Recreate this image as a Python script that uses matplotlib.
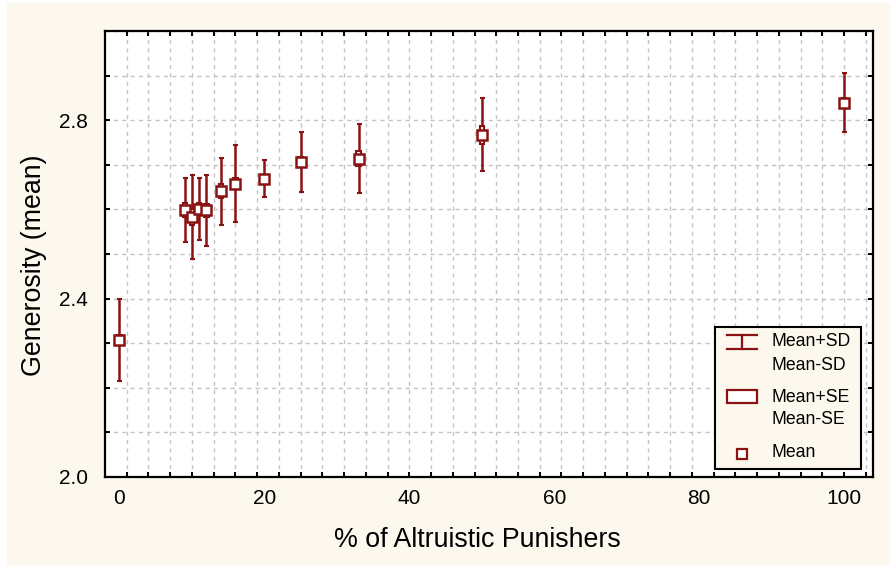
import numpy as np
import matplotlib.pyplot as plt
from matplotlib.patches import Rectangle
from matplotlib.ticker import FixedLocator

plt.rcParams['font.family'] = ['Liberation Sans', 'DejaVu Sans']

# datos
pct = [0, 9, 10, 11, 12, 14, 16, 20, 25, 33, 50, 100]
mean = [2.308, 2.599, 2.583, 2.601, 2.598, 2.641, 2.658, 2.669, 2.707, 2.714, 2.767, 2.839]
sd = [0.092, 0.071, 0.094, 0.070, 0.079, 0.075, 0.087, 0.042, 0.067, 0.078, 0.082, 0.066]
se = [0.011, 0.015, 0.018, 0.013, 0.014, 0.015, 0.013, 0.008, 0.011, 0.016, 0.020, 0.010]

xticks = [0, 20, 40, 60, 80, 100]
yticks = [2.0, 2.4, 2.8]

red = '#8b1212'
cream = '#fdf8ee'
gridc = '#c4c4c4'

fig = plt.figure(figsize=(8.9, 5.66), dpi=100, facecolor='white')
fig.patches.append(Rectangle((7 / 890, 0), 1, 1 - 3 / 566, transform=fig.transFigure,
                             facecolor=cream, edgecolor='none', zorder=-10))
ax = fig.add_axes([105 / 890, 1 - 477 / 566, 768 / 890, 446 / 566])
ax.set_facecolor('white')

# barras de SD
ax.errorbar(pct, mean, yerr=sd, fmt='none', ecolor=red, elinewidth=1.8,
            capsize=1.8, capthick=1.5, zorder=3)
# cajas de SE
lo = [m - s for m, s in zip(mean, se)]
ax.bar(pct, [2 * s for s in se], bottom=lo, width=0.6, facecolor='white',
       edgecolor=red, linewidth=1.5, zorder=4)
# medias
ax.plot(pct, mean, ls='none', marker='s', ms=7.8, mfc='white', mec=red, mew=1.8, zorder=5)

ax.set_xlim(-2, 104)
ax.set_ylim(2.0, 3.0)

ax.xaxis.remove_overlapping_locs = False
ax.set_xticks(xticks)
ax.xaxis.set_minor_locator(FixedLocator(np.arange(1, 104, 3)))
ax.set_yticks(yticks)
ax.yaxis.set_minor_locator(FixedLocator(np.arange(2.0, 3.01, 0.1)))

ax.tick_params(which='both', direction='in', top=True, right=True, width=1.4, length=3.5)
ax.tick_params(axis='x', which='major', length=0, labelsize=15, pad=9)
ax.tick_params(axis='y', which='major', labelsize=15, pad=12)

ax.grid(which='minor', axis='x', color=gridc, ls=(0, (3, 3)), lw=1)
ax.grid(which='both', axis='y', color=gridc, ls=(0, (3, 3)), lw=1)
ax.grid(which='major', axis='x', visible=False)
ax.set_axisbelow(True)

for sp in ax.spines.values():
    sp.set_linewidth(1.6)
    sp.set_color('black')

ax.set_xlabel('% of Altruistic Punishers', fontsize=19.3, va='center')
ax.xaxis.set_label_coords(0.485, -0.141)
ax.set_ylabel('Generosity (mean)', fontsize=19.3, va='center')
ax.yaxis.set_label_coords(-0.092, 0.475)

# leyenda dibujada a mano
tr = ax.transAxes
ax.add_patch(Rectangle((0.794, 0.018), 0.19, 0.318, transform=tr, facecolor=cream,
                       edgecolor='black', lw=1.5, zorder=6))
ax.plot([0.810, 0.849], [0.319, 0.319], color=red, lw=1.6, transform=tr, zorder=7)
ax.plot([0.810, 0.849], [0.287, 0.287], color=red, lw=1.6, transform=tr, zorder=7)
ax.plot([0.8295, 0.8295], [0.287, 0.319], color=red, lw=1.6, transform=tr, zorder=7)
ax.add_patch(Rectangle((0.810, 0.166), 0.039, 0.029, transform=tr, facecolor='white',
                       edgecolor=red, lw=1.6, zorder=7))
ax.plot([0.829], [0.0516], ls='none', marker='s', ms=7, mfc='white', mec=red, mew=1.6,
        transform=tr, zorder=7)
for txt, yy in [('Mean+SD', 0.303), ('Mean-SD', 0.251), ('Mean+SE', 0.179),
                ('Mean-SE', 0.130), ('Mean', 0.056)]:
    ax.text(0.868, yy, txt, transform=tr, fontsize=12.7, va='center', ha='left', zorder=8)

fig.savefig('out.png', dpi=100, facecolor=fig.get_facecolor())
